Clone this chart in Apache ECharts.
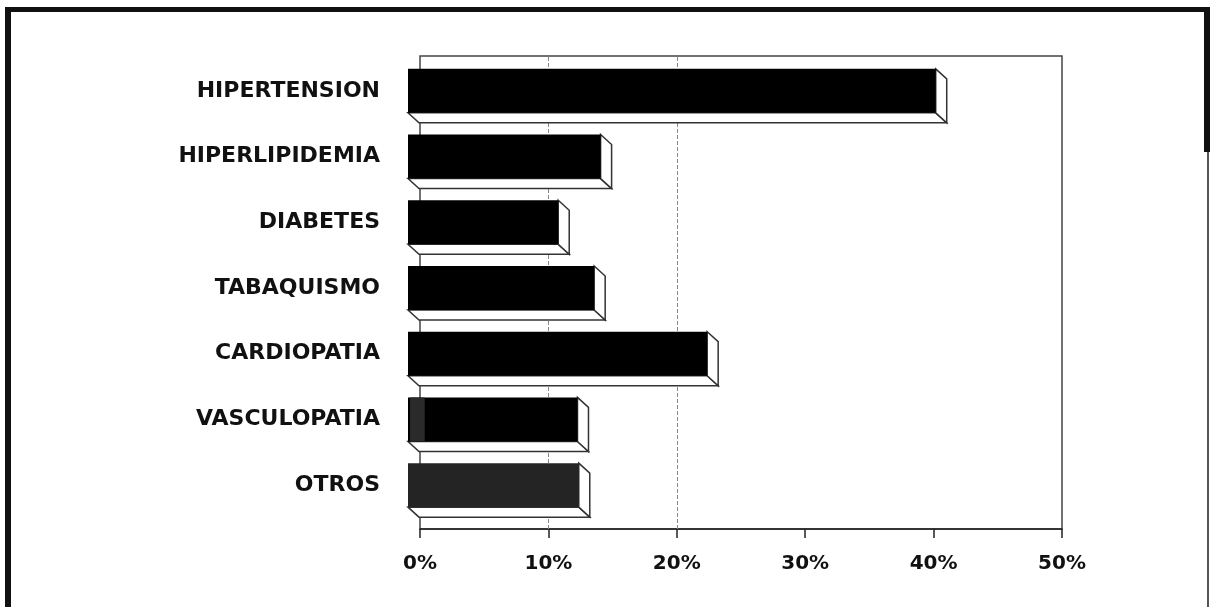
<!DOCTYPE html>
<html>
<head>
<meta charset="utf-8">
<script src="https://cdn.jsdelivr.net/npm/echarts@6/dist/echarts.min.js"></script>
<style>
  html, body { margin: 0; padding: 0; background: #fff; }
  #chart { width: 1210px; height: 607px; }
</style>
</head>
<body>
<div id="chart"></div>
<script>
const categories = ['HIPERTENSION', 'HIPERLIPIDEMIA', 'DIABETES', 'TABAQUISMO', 'CARDIOPATIA', 'VASCULOPATIA', 'OTROS'];
const values = [41.1, 15.0, 11.7, 14.5, 23.3, 13.2, 13.3];
// grey start of the bar (scan shading), in %
const leadShade = [0, 0, 0, 0, 0, 1.3, 0];
const faceColors = ['#000', '#000', '#000', '#000', '#000', '#000', '#242424'];
const gridMarks = [10, 20];

const DX = 11, DY = 10; // depth of the 3d bars

const chart = echarts.init(document.getElementById('chart'));

function renderBar(params, api) {
  const idx = api.value(1);
  const start = api.coord([0, idx]);
  const end = api.coord([api.value(0), idx]);
  const band = api.size([0, 1])[1];
  const h = band * 0.67;
  const x0 = start[0], x1 = end[0];
  const yT = start[1] - h / 2, yB = start[1] + h / 2;
  const edge = { fill: '#fff', stroke: '#333', lineWidth: 1.5 };
  const children = [
    { type: 'polygon', shape: { points: [[x0, yB], [x1, yB], [x1 + DX, yB + DY], [x0 + DX, yB + DY]] }, style: edge },
    { type: 'polygon', shape: { points: [[x1, yT], [x1 + DX, yT + DY], [x1 + DX, yB + DY], [x1, yB]] }, style: edge },
    { type: 'rect', shape: { x: x0, y: yT, width: x1 - x0, height: h }, style: { fill: faceColors[idx] } }
  ];
  const lead = api.value(2);
  if (lead > 0) {
    const xl = api.coord([lead, idx])[0];
    children.push({ type: 'rect', shape: { x: x0 + 2, y: yT, width: xl - x0 - 2, height: h }, style: { fill: '#2a2a2a' } });
  }
  return { type: 'group', children };
}

const option = {
  animation: false,
  backgroundColor: '#fff',
  grid: [
    { left: 420, top: 56, width: 642, height: 473, show: true, borderColor: '#444', borderWidth: 1.5, backgroundColor: 'transparent' },
    { left: 408, top: 58, width: 642, height: 460 }
  ],
  xAxis: [
    {
      type: 'value', gridIndex: 0, min: 0, max: 50, interval: 10,
      axisLine: { show: true, lineStyle: { color: '#222', width: 1.5 } },
      axisTick: { show: true, length: 9, lineStyle: { color: '#222', width: 1.5 } },
      splitLine: { show: false },
      axisLabel: {
        formatter: '{value}%', margin: 25, color: '#111',
        fontFamily: 'DejaVu Sans', fontWeight: 'bold', fontSize: 20
      }
    },
    { type: 'value', gridIndex: 1, min: 0, max: 50, show: false }
  ],
  yAxis: [
    { type: 'value', gridIndex: 0, show: false, min: 0, max: 1 },
    {
      type: 'category', gridIndex: 1, data: categories, inverse: true,
      axisLine: { show: false }, axisTick: { show: false },
      axisLabel: {
        margin: 28, color: '#111',
        fontFamily: 'DejaVu Sans', fontWeight: 'bold', fontSize: 22
      }
    }
  ],
  graphic: [
    { type: 'rect', shape: { x: 6, y: 7, width: 1204, height: 5 }, style: { fill: '#111' } },
    { type: 'rect', shape: { x: 5, y: 7, width: 6, height: 600 }, style: { fill: '#111' } },
    { type: 'rect', shape: { x: 1204, y: 7, width: 6, height: 145 }, style: { fill: '#111' } },
    { type: 'rect', shape: { x: 1207, y: 152, width: 2, height: 455 }, style: { fill: '#555' } }
  ],
  series: [
    {
      type: 'line', xAxisIndex: 0, yAxisIndex: 0, data: [], z: 1, silent: true,
      markLine: {
        z: 1, symbol: 'none', silent: true, label: { show: false },
        lineStyle: { color: '#888', type: 'dashed', width: 1 },
        data: gridMarks.map(v => ({ xAxis: v }))
      }
    },
    {
      type: 'custom', xAxisIndex: 1, yAxisIndex: 1, z: 3,
      renderItem: renderBar,
      data: values.map((v, i) => [v, i, leadShade[i]])
    }
  ]
};

chart.setOption(option);
</script>
</body>
</html>
